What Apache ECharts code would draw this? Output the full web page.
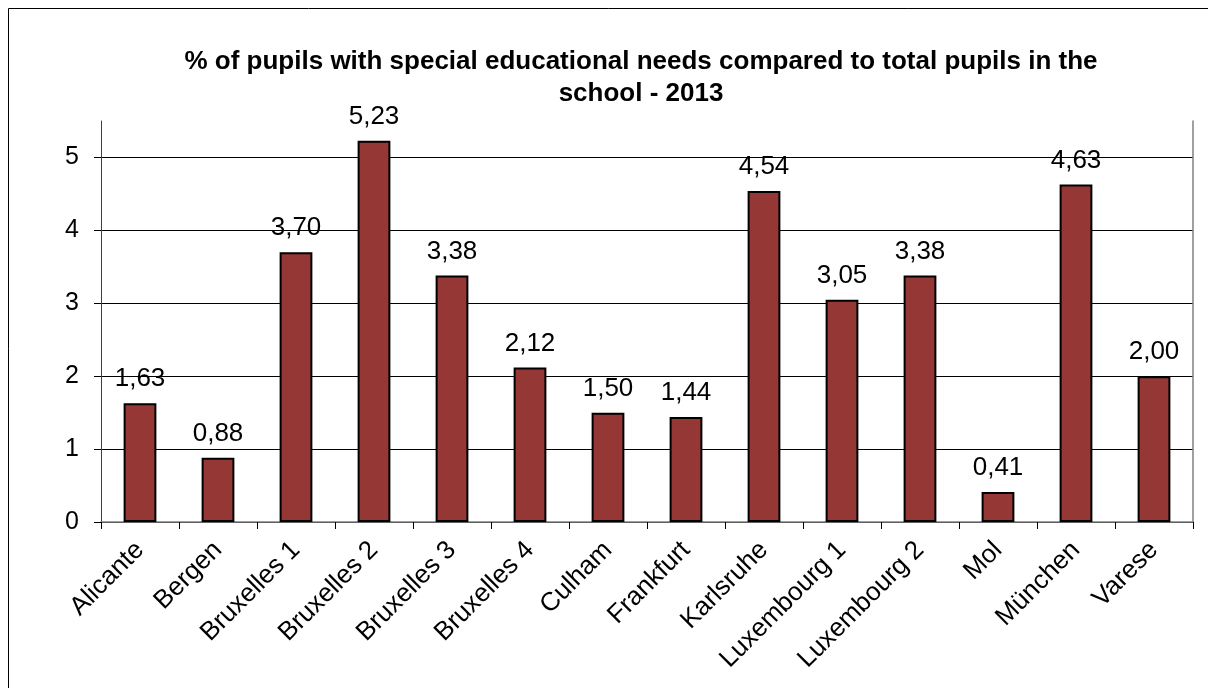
<!DOCTYPE html>
<html>
<head>
<meta charset="utf-8">
<script src="https://cdn.jsdelivr.net/npm/echarts@6/dist/echarts.min.js"></script>
<style>
html,body{margin:0;padding:0;background:#fff;}
#chart{width:1208px;height:688px;}
</style>
</head>
<body>
<div id="chart"></div>
<script>
const categories = ['Alicante','Bergen','Bruxelles 1','Bruxelles 2','Bruxelles 3','Bruxelles 4','Culham','Frankfurt','Karlsruhe','Luxembourg 1','Luxembourg 2','Mol','München','Varese'];
const values = [1.63,0.88,3.70,5.23,3.38,2.12,1.50,1.44,4.54,3.05,3.38,0.41,4.63,2.00];
const yTicks = [0,1,2,3,4,5];
const titleText = '% of pupils with special educational needs compared to total pupils in the\nschool - 2013';

const FONT = '"Liberation Sans", Arial, sans-serif';
const chart = echarts.init(document.getElementById('chart'));
chart.setOption({
  animation: false,
  backgroundColor: '#fff',
  graphic: [{
    type: 'rect', shape: {x: 8.5, y: 8.5, width: 1400, height: 1000},
    style: {fill: 'none', stroke: '#000', lineWidth: 1}, silent: true, z: -1
  }],
  title: {
    text: titleText,
    left: 636, textAlign: 'center', top: 41,
    textStyle: {fontFamily: FONT, fontWeight: 'bold', fontSize: 26, lineHeight: 32, color: '#000'}
  },
  grid: {left: 101, right: 15, top: 121, bottom: 166, containLabel: false},
  xAxis: [{
    type: 'category', data: categories, position: 'bottom',
    axisLine: {lineStyle: {color: '#000', width: 1}},
    axisTick: {show: true, length: 7, lineStyle: {color: '#000'}},
    axisLabel: {rotate: 45, margin: 24, fontFamily: FONT, fontSize: 26, color: '#000', interval: 0}
  }, {
    type: 'category', data: categories, position: 'top',
    axisLine: {show: true, lineStyle: {color: '#808080', width: 1.5}},
    axisTick: {show: false}, axisLabel: {show: false}
  }],
  yAxis: [{
    type: 'value', min: 0, max: 5.5, interval: 1,
    axisLine: {show: true, lineStyle: {color: '#404040', width: 1}},
    axisTick: {show: true, length: 7, inside: false, lineStyle: {color: '#000'}},
    axisLabel: {
      margin: 22, fontFamily: FONT, fontSize: 25, color: '#000', showMaxLabel: false,
      formatter: v => yTicks.indexOf(v) >= 0 ? String(v) : ''
    },
    splitLine: {show: true, showMinLine: false, showMaxLine: false, lineStyle: {color: '#000', width: 1}}
  }, {
    type: 'value', min: 0, max: 5.5, interval: 1, position: 'right',
    axisLine: {show: true, lineStyle: {color: '#808080', width: 1.5}},
    axisTick: {show: false}, axisLabel: {show: false}, splitLine: {show: false}
  }],
  series: [{
    type: 'bar', data: values, barWidth: '42%',
    itemStyle: {color: '#953735', borderColor: '#000', borderWidth: 2},
    label: {
      show: true, position: 'top', distance: 11,
      fontFamily: FONT, fontSize: 26, color: '#000',
      formatter: p => p.value.toFixed(2).replace('.', ',')
    }
  }]
});
</script>
</body>
</html>
